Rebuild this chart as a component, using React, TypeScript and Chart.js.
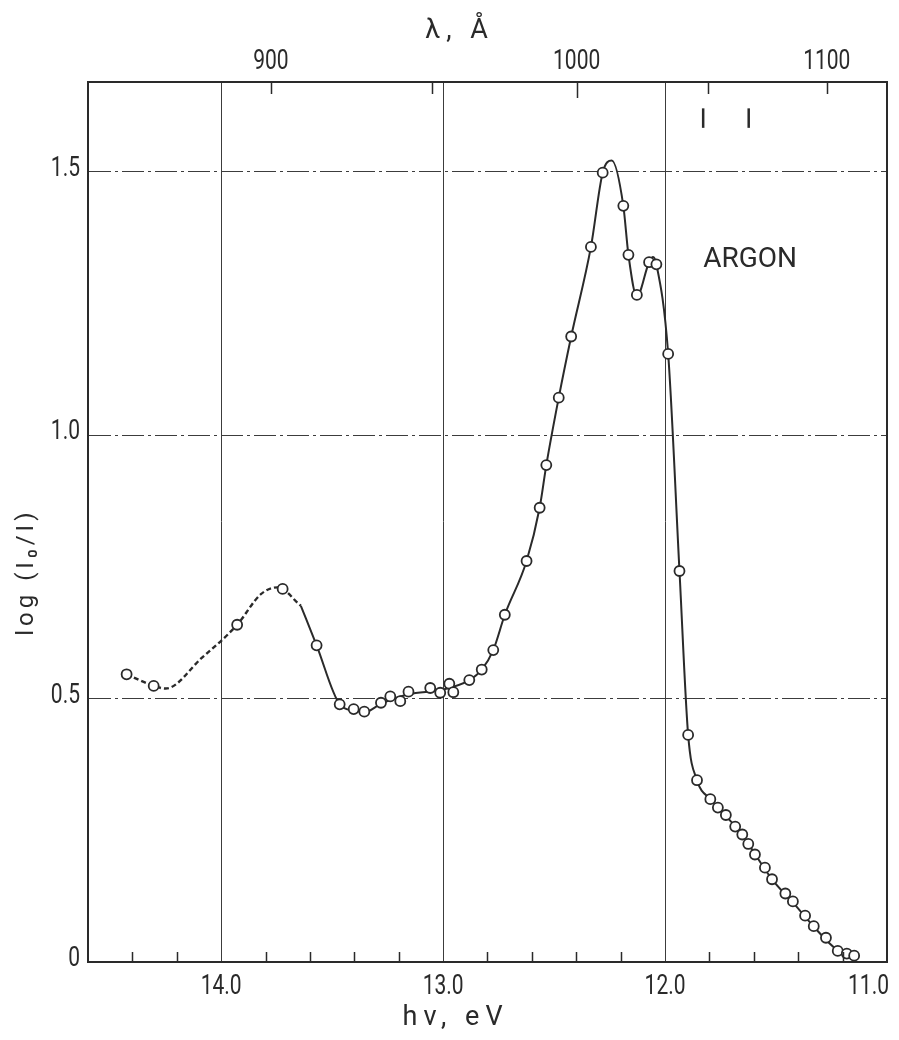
import React, { useEffect, useRef } from 'react';
import { Chart, registerables } from 'chart.js';

Chart.register(...registerables);

// ---- data (photon energy hν in eV, log(I0/I)) ----
const pointsE = [14.426, 14.304, 13.928, 13.723, 13.570, 13.466, 13.403, 13.355, 13.280, 13.238, 13.193, 13.156, 13.058, 13.013, 12.972, 12.954, 12.882, 12.826, 12.774, 12.722, 12.624, 12.565, 12.535, 12.479, 12.423, 12.334, 12.281, 12.188, 12.165, 12.127, 12.072, 12.039, 11.986, 11.935, 11.896, 11.856, 11.796, 11.762, 11.726, 11.684, 11.652, 11.625, 11.595, 11.550, 11.518, 11.458, 11.424, 11.369, 11.330, 11.275, 11.222, 11.181, 11.148];
const pointsV = [0.546, 0.524, 0.640, 0.708, 0.601, 0.489, 0.480, 0.475, 0.492, 0.504, 0.495, 0.513, 0.520, 0.511, 0.528, 0.512, 0.535, 0.555, 0.592, 0.659, 0.761, 0.862, 0.943, 1.071, 1.187, 1.357, 1.498, 1.435, 1.342, 1.266, 1.328, 1.324, 1.154, 0.742, 0.431, 0.345, 0.309, 0.293, 0.279, 0.257, 0.242, 0.224, 0.204, 0.179, 0.157, 0.130, 0.115, 0.088, 0.068, 0.046, 0.021, 0.016, 0.012];

// dotted (uncertain) part of the drawn curve
const dashE = [14.426, 14.304, 14.250, 14.090, 13.928, 13.821, 13.746, 13.641];
const dashV = [0.546, 0.524, 0.519, 0.576, 0.640, 0.698, 0.711, 0.676];

// solid drawn curve
const curveE = [13.641, 13.570, 13.466, 13.400, 13.355, 13.280, 13.156, 13.000, 12.882, 12.826, 12.774, 12.722, 12.624, 12.565, 12.535, 12.479, 12.423, 12.334, 12.281, 12.240, 12.188, 12.165, 12.127, 12.072, 12.054, 12.039, 11.986, 11.935, 11.896, 11.856, 11.796, 11.726, 11.652, 11.595, 11.518, 11.424, 11.330, 11.222, 11.181, 11.148];
const curveV = [0.676, 0.601, 0.489, 0.477, 0.474, 0.490, 0.508, 0.517, 0.535, 0.555, 0.592, 0.659, 0.761, 0.862, 0.943, 1.071, 1.187, 1.357, 1.498, 1.521, 1.435, 1.342, 1.263, 1.328, 1.338, 1.324, 1.154, 0.742, 0.431, 0.345, 0.309, 0.277, 0.242, 0.205, 0.157, 0.113, 0.067, 0.022, 0.015, 0.012];

// axes
const eMin = 11.0;
const eMax = 14.6;
const eGrid = [14.0, 13.0, 12.0];
const eLabels = [14.0, 13.0, 12.0, 11.0];
const eMinor = [14.4, 14.2, 13.8, 13.6, 13.4, 13.2, 12.8, 12.6, 12.4, 12.2, 11.8, 11.6, 11.4, 11.2];
const yMin = 0;
const yMax = 1.67;
const yGrid = [0.5, 1.0, 1.5];
const yLabels = [0, 0.5, 1.0, 1.5];
const lambdaTicks = [900, 950, 1000, 1050, 1100];
const lambdaLabels = [900, 1000, 1100];
const HC = 12398.4; // eV·Å

// argon resonance line marks (Å) and their vertical extent
const arLinesA = [1048.2, 1066.7];
const arMarkV = [1.583, 1.62];

const sampleName = 'ARGON';
const sampleAt = { x: 11.617, y: 1.332 };

const INK = '#2a2a2a';
const GRID = '#3c3c3c';
const NUM_FONT = '28px Roboto, "DejaVu Sans", sans-serif';
const NUM_SX = 0.75;

function drawText(
  ctx: CanvasRenderingContext2D,
  text: string,
  x: number,
  y: number,
  font: string,
  align: CanvasTextAlign,
  sx = 1,
  spacing = 0,
  rot = 0
) {
  ctx.save();
  ctx.translate(x, y);
  if (rot) ctx.rotate(rot);
  ctx.scale(sx, 1);
  ctx.font = font;
  (ctx as any).letterSpacing = spacing + 'px';
  ctx.textAlign = align;
  ctx.textBaseline = 'middle';
  ctx.fillStyle = INK;
  ctx.fillText(text, 0, 0);
  ctx.restore();
}

const decorPlugin = {
  id: 'decor',
  afterDraw(chart: any) {
    const { ctx, chartArea: ca, scales } = chart;
    const x = scales.x;
    const y = scales.y;
    ctx.save();
    ctx.strokeStyle = INK;
    ctx.lineWidth = 1.5;
    // inward ticks, bottom (eV)
    ctx.beginPath();
    eMinor.forEach((v) => {
      const px = Math.round(x.getPixelForValue(v)) + 0.5;
      ctx.moveTo(px, ca.bottom);
      ctx.lineTo(px, ca.bottom - 10);
    });
    // inward ticks, top (Å)
    lambdaTicks.forEach((l) => {
      const px = Math.round(x.getPixelForValue(HC / l)) + 0.5;
      ctx.moveTo(px, ca.top);
      ctx.lineTo(px, ca.top + (l === 1000 ? 16 : 12));
    });
    ctx.stroke();
    ctx.restore();

    // tick labels
    yLabels.forEach((v) => {
      const py = y.getPixelForValue(v);
      drawText(ctx, v === 0 ? '0' : v.toFixed(1), ca.left - 8, py - 3, NUM_FONT, 'right', NUM_SX);
    });
    eLabels.forEach((v) => {
      const px = x.getPixelForValue(v);
      const last = v === eMin;
      drawText(ctx, v.toFixed(1), last ? px + 2 : px, ca.bottom + 25, NUM_FONT, last ? 'right' : 'center', NUM_SX);
    });
    lambdaLabels.forEach((l) => {
      const px = x.getPixelForValue(HC / l);
      drawText(ctx, String(l), px, ca.top - 20, NUM_FONT, 'center', NUM_SX);
    });

    // axis titles
    drawText(ctx, 'λ, Å', ca.left + 0.465 * ca.width, ca.top - 51, '27px Roboto, sans-serif', 'center', 1, 6);
    drawText(ctx, 'hν, eV', ca.left + 0.46 * ca.width, ca.bottom + 56, '27px Roboto, sans-serif', 'center', 1, 6);
    drawText(ctx, 'log (I₀/I)', ca.left - 61, ca.top + 0.557 * ca.height, '24px Roboto, sans-serif', 'center', 1, 4, -Math.PI / 2);

    // sample label
    drawText(ctx, sampleName, x.getPixelForValue(sampleAt.x), y.getPixelForValue(sampleAt.y), '28px Roboto, sans-serif', 'center', 1, 0);
  },
};

export default function App() {
  const ref = useRef<HTMLCanvasElement>(null);

  useEffect(() => {
    document.body.style.margin = '0';
    const pts = pointsE.map((e, i) => ({ x: e, y: pointsV[i] }));
    const dash = dashE.map((e, i) => ({ x: e, y: dashV[i] }));
    const curve = curveE.map((e, i) => ({ x: e, y: curveV[i] }));
    const marks = arLinesA.map((l) => ({
      type: 'line' as const,
      data: arMarkV.map((v) => ({ x: HC / l, y: v })),
      showLine: true,
      borderColor: INK,
      borderWidth: 2.5,
      pointRadius: 0,
      tension: 0,
      order: 2,
    }));

    const chart = new Chart(ref.current as HTMLCanvasElement, {
      type: 'scatter',
      data: {
        datasets: [
          {
            data: pts,
            showLine: false,
            pointRadius: 5,
            pointBackgroundColor: '#ffffff',
            pointBorderColor: INK,
            pointBorderWidth: 1.8,
            order: 0,
          } as any,
          {
            type: 'line',
            data: dash,
            showLine: true,
            borderColor: INK,
            borderWidth: 2.4,
            borderDash: [5, 3],
            pointRadius: 0,
            cubicInterpolationMode: 'monotone',
            order: 1,
          } as any,
          {
            type: 'line',
            data: curve,
            showLine: true,
            borderColor: INK,
            borderWidth: 2,
            pointRadius: 0,
            cubicInterpolationMode: 'monotone',
            order: 1,
          } as any,
          ...(marks as any[]),
        ],
      },
      options: {
        animation: false,
        responsive: false,
        devicePixelRatio: 1,
        layout: { padding: { left: 88, right: 12, top: 82, bottom: 78 } },
        plugins: {
          legend: { display: false },
          tooltip: { enabled: false },
          title: { display: false },
        },
        scales: {
          x: {
            type: 'linear',
            position: 'bottom',
            reverse: true,
            min: eMin,
            max: eMax,
            afterBuildTicks: (s: any) => {
              s.ticks = eGrid.map((v) => ({ value: v }));
            },
            ticks: { display: false },
            grid: { color: GRID, lineWidth: 1, drawTicks: false },
            border: { display: true, color: INK, width: 2 },
          },
          x2: {
            type: 'linear',
            position: 'top',
            reverse: true,
            min: eMin,
            max: eMax,
            afterBuildTicks: (s: any) => {
              s.ticks = lambdaTicks.map((l) => ({ value: HC / l }));
            },
            ticks: { display: false },
            grid: { drawOnChartArea: false, drawTicks: false },
            border: { display: true, color: INK, width: 2 },
          },
          y: {
            type: 'linear',
            position: 'left',
            min: yMin,
            max: yMax,
            afterBuildTicks: (s: any) => {
              s.ticks = yGrid.map((v) => ({ value: v }));
            },
            ticks: { display: false },
            grid: { color: GRID, lineWidth: 1, drawTicks: false },
            border: { display: true, color: INK, width: 2, dash: [22, 4, 3, 4] },
          },
          y2: {
            type: 'linear',
            position: 'right',
            min: yMin,
            max: yMax,
            ticks: { display: false },
            grid: { drawOnChartArea: false, drawTicks: false },
            border: { display: true, color: INK, width: 2 },
          },
        },
      } as any,
      plugins: [decorPlugin],
    });
    return () => chart.destroy();
  }, []);

  return (
    <div style={{ position: 'fixed', left: 0, top: 0, width: 899, height: 1040, background: '#ffffff' }}>
      <canvas ref={ref} width={899} height={1040} />
    </div>
  );
}
